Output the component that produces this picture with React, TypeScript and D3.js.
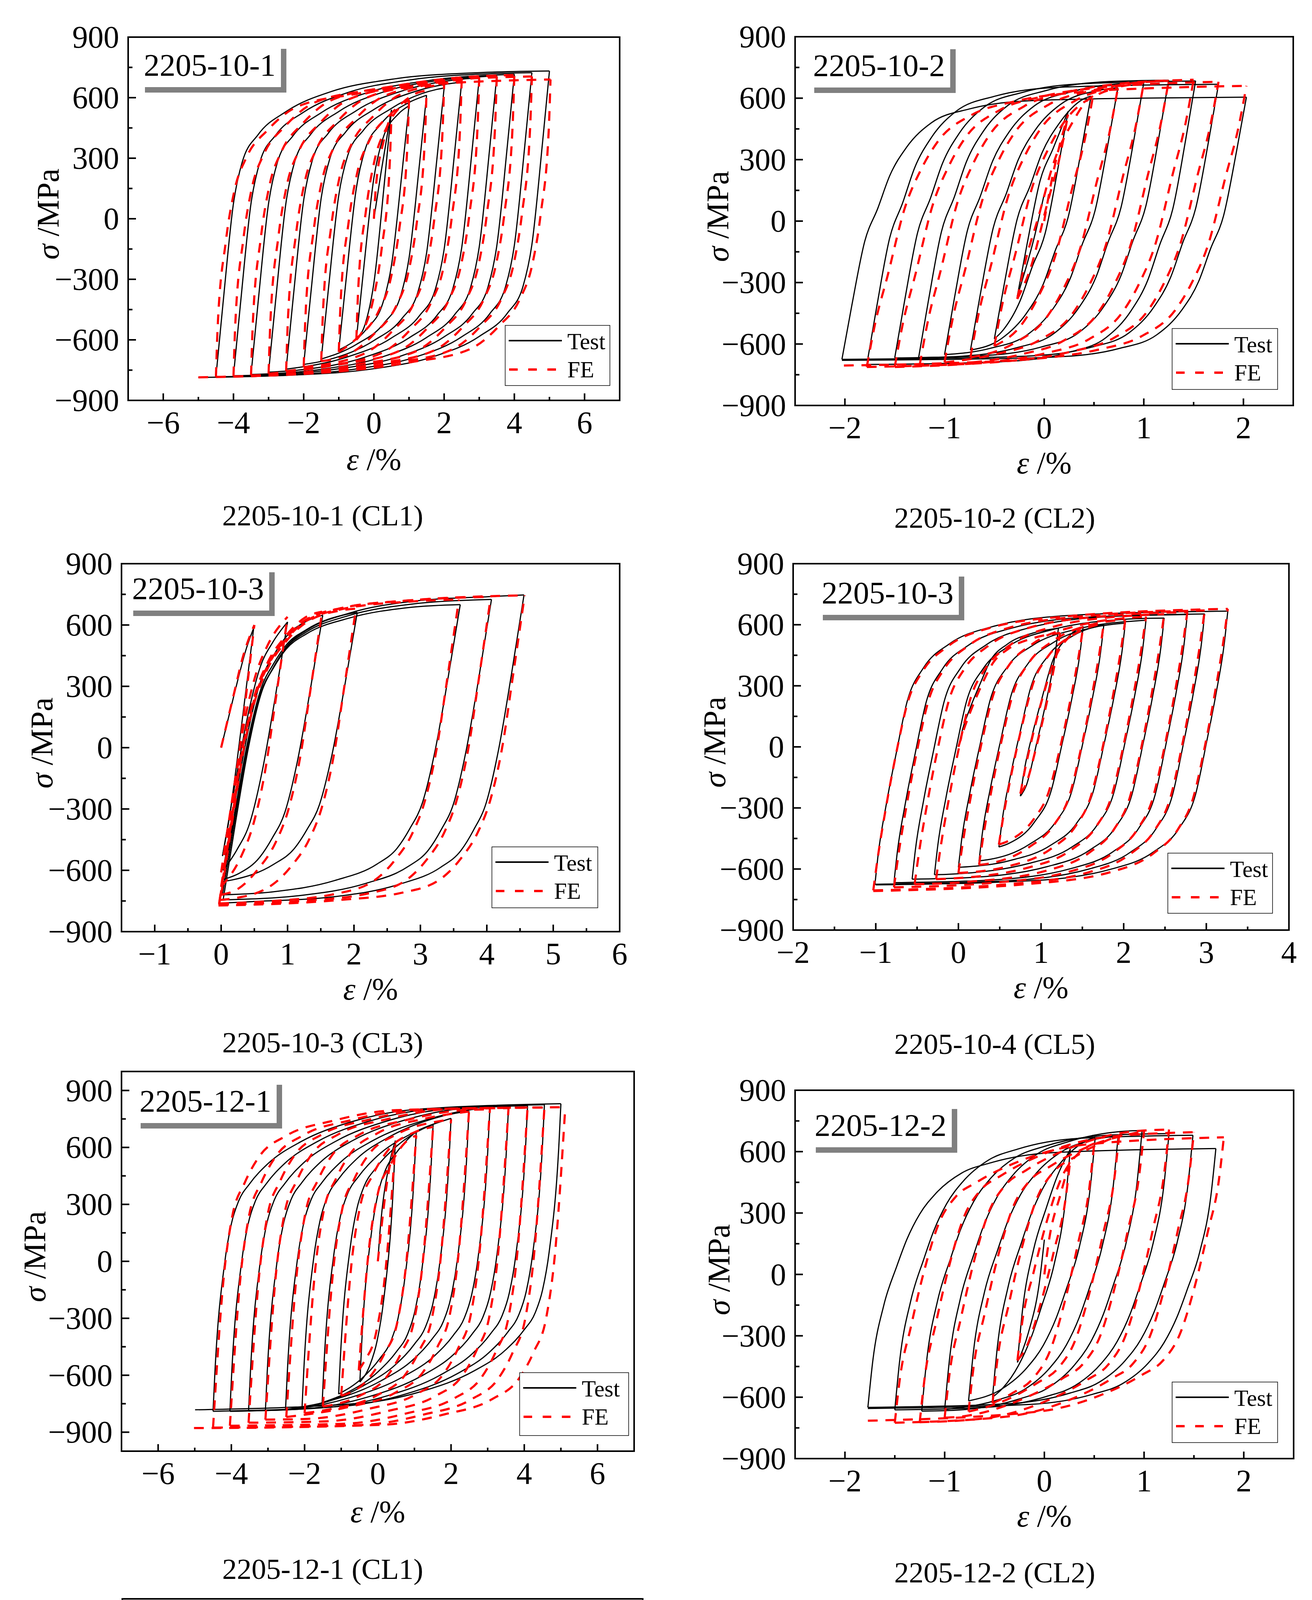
import * as d3 from "d3";
import React, { useEffect, useRef } from "react";

type Pt = [number, number];

const W = 3358;
const H = 5443;
const FONT = "'Liberation Serif', 'Times New Roman', serif";

// Reversal points of each record: [strain %, stress MPa]
const rev101Test: Pt[] = [
  [0, 0], [0.5, 540], [-0.5, -597], [1.0, 560], [-1.0, -650], [1.5, 612], [-1.5, -695],
  [2.0, 648], [-2.0, -722], [2.5, 678], [-2.5, -745], [3.0, 698], [-3.0, -760], [3.5, 708],
  [-3.5, -772], [4.0, 716], [-4.0, -778], [4.5, 724], [-4.5, -783], [5.0, 732], [-5.0, -786],
];
const rev101Fe: Pt[] = [
  [0, 0], [0.5, 520], [-0.5, -600], [1.0, 590], [-1.0, -660], [1.5, 635], [-1.5, -705],
  [2.0, 665], [-2.0, -735], [2.5, 685], [-2.5, -755], [3.0, 700], [-3.0, -768], [3.5, 708],
  [-3.5, -776], [4.0, 712], [-4.0, -781], [4.5, 705], [-4.5, -784], [5.03, 690], [-5.0, -786],
];
const rev102Test: Pt[] = [
  [0, 130], [-0.27, -368], [0.24, 535], [-0.5, -575], [0.47, 610], [-0.74, -630], [0.74, 651],
  [-1.0, -652], [1.0, 676], [-1.26, -666], [1.25, 688], [-1.5, -668], [1.52, 684], [-1.78, -700],
  [1.75, 668], [-2.03, -675], [2.03, 605], [-2.03, -680],
];
const rev102Fe: Pt[] = [
  [0, 0], [0.24, 520], [-0.27, -380], [0.49, 610], [-0.5, -610], [0.74, 650], [-0.74, -665],
  [1.0, 675], [-1.0, -690], [1.25, 685], [-1.25, -705], [1.5, 690], [-1.5, -712], [1.75, 680],
  [-1.78, -712], [2.03, 660], [-2.01, -705],
];
const rev103Test: Pt[] = [
  [0, 0], [0.49, 585], [0.02, -530], [1.0, 615], [0.03, -600], [1.53, 648], [0.03, -645],
  [2.05, 662], [0.03, -655], [3.6, 700], [0.02, -720], [4.07, 725], [0.03, -745], [4.56, 747],
  [0.04, -760],
];
const rev103Fe: Pt[] = [
  [0, 0], [0.5, 600], [0.0, -610], [1.0, 640], [0.0, -680], [1.52, 665], [0.0, -720],
  [2.03, 680], [-0.02, -745], [3.58, 725], [-0.03, -762], [4.06, 738], [-0.03, -768],
  [4.57, 745], [-0.04, -772],
];
const rev104Test: Pt[] = [
  [0, 0], [1.21, 583], [0.75, -242], [1.51, 592], [0.49, -492], [1.76, 600], [0.25, -560],
  [2.02, 608], [0.0, -592], [2.27, 622], [-0.29, -628], [2.49, 633], [-0.56, -650], [2.77, 650],
  [-0.78, -667], [2.98, 653], [-1.01, -675], [3.26, 667], [-1.0, -678],
];
const rev104Fe: Pt[] = [
  [0, 0], [1.23, 560], [0.75, -230], [1.51, 590], [0.49, -480], [1.76, 608], [0.25, -580],
  [2.02, 625], [0.0, -620], [2.27, 640], [-0.27, -650], [2.49, 652], [-0.53, -675], [2.77, 662],
  [-0.78, -690], [2.98, 670], [-1.03, -705], [3.26, 678], [-1.03, -708],
];
const rev121Test: Pt[] = [
  [0, 0], [0.48, 636], [-0.49, -636], [1.05, 685], [-1.07, -699], [1.51, 720], [-1.52, -744],
  [2.0, 753], [-2.07, -771], [2.49, 792], [-2.52, -780], [3.06, 807], [-3.07, -785], [3.57, 816],
  [-3.53, -788], [4.09, 820], [-4.04, -790], [4.55, 825], [-4.5, -790], [5.0, 830], [-4.99, -782],
];
const rev121Fe: Pt[] = [
  [0, 0], [0.48, 618], [-0.52, -574], [1.05, 663], [-1.0, -708], [1.51, 708], [-1.5, -765],
  [2.0, 748], [-2.0, -800], [2.49, 789], [-2.5, -820], [3.06, 800], [-3.07, -834], [3.57, 807],
  [-3.53, -850], [4.09, 810], [-4.04, -866], [4.55, 810], [-4.5, -876], [5.12, 812], [-5.02, -878],
];
const rev122Test: Pt[] = [
  [0, 170], [-0.27, -430], [0.26, 612], [-0.52, -600], [0.51, 670], [-0.76, -618], [0.74, 678],
  [-1.0, -660], [0.98, 703], [-1.23, -668], [1.25, 688], [-1.5, -662], [1.49, 680], [-1.77, -650],
  [1.72, 615], [-1.77, -655],
];
const rev122Fe: Pt[] = [
  [0, 0], [0.26, 560], [-0.27, -420], [0.5, 640], [-0.52, -630], [0.75, 680], [-0.76, -670],
  [1.0, 700], [-1.0, -700], [1.25, 708], [-1.25, -722], [1.5, 695], [-1.5, -725], [1.8, 670],
  [-1.77, -715],
];
const rev123Test: Pt[] = [
  [0, 0], [0.52, 513], [0.0, -420], [0.98, 553], [-0.01, -530], [1.53, 575], [-0.02, -578],
  [1.99, 590], [-0.03, -610], [2.52, 615], [-0.01, -634], [3.03, 640], [0.0, -650], [3.52, 650],
  [0.0, -658], [4.0, 652], [-0.02, -660],
];
const rev123Fe: Pt[] = [
  [0, 0], [0.5, 528], [0.0, -460], [1.0, 605], [0.0, -560], [1.51, 580], [-0.02, -600],
  [2.0, 600], [-0.03, -628], [2.52, 620], [-0.04, -645], [3.03, 632], [-0.05, -652], [3.52, 636],
  [-0.06, -658], [4.02, 636], [-0.1, -662],
];
const rev124Test: Pt[] = [
  [0, 0], [0.55, 565], [-0.52, -524], [0.55, 570], [-0.52, -530], [1.52, 640], [-1.52, -660],
  [1.52, 648], [-1.53, -667], [2.5, 705], [-2.51, -717], [2.5, 707], [-2.51, -718],
];
const rev124Fe: Pt[] = [
  [0, 0], [0.55, 540], [-0.53, -540], [0.55, 545], [-0.53, -545], [1.52, 645], [-1.55, -683],
  [1.52, 655], [-1.55, -685], [2.54, 680], [-2.52, -717], [2.54, 682], [-2.52, -718],
];

// Branch shapes: [strain offset, stress offset] from a reversal, read from the outer loops
const shape101Test: Pt[] = [[0, 0], [0.2, 360], [0.5, 860], [0.75, 1065], [1.2, 1200], [2, 1315], [3.3, 1415], [5, 1475], [7.5, 1508], [10, 1518]];
const shape101Fe: Pt[] = [[0, 0], [0.05, 250], [0.28, 670], [0.52, 920], [0.87, 1090], [1.47, 1225], [2.3, 1340], [4, 1405], [6, 1450], [10, 1480]];
const shape102Test: Pt[] = [[0, 0], [0.1, 266], [0.23, 580], [0.36, 740], [0.48, 900], [0.65, 1040], [0.9, 1160], [1.28, 1227], [1.91, 1268], [3.0, 1280], [4.1, 1285]];
const shape102Fe: Pt[] = [[0, 0], [0.08, 208], [0.21, 456], [0.38, 788], [0.55, 987], [0.71, 1119], [1.05, 1252], [1.47, 1318], [2, 1360], [3.15, 1390], [4.1, 1400]];
const shape103Test: Pt[] = [[0, 0], [0.19, 390], [0.38, 752], [0.57, 1018], [0.76, 1151], [0.95, 1251], [1.26, 1334], [1.89, 1417], [2.84, 1476], [4.1, 1501], [4.6, 1509]];
const shape103Fe: Pt[] = [[0, 0], [0.2, 440], [0.32, 700], [0.51, 980], [0.7, 1140], [0.96, 1270], [1.27, 1370], [1.84, 1435], [2.85, 1472], [4.6, 1497]];
const shape104Test: Pt[] = [[0, 0], [0.04, 150], [0.14, 400], [0.26, 650], [0.39, 900], [0.59, 1067], [0.9, 1183], [1.41, 1267], [2.42, 1325], [4.3, 1345]];
const shape104Fe: Pt[] = [[0, 0], [0.05, 150], [0.15, 400], [0.28, 680], [0.42, 930], [0.6, 1080], [0.9, 1200], [1.4, 1290], [2.4, 1350], [4.3, 1385]];
const shape121Test: Pt[] = [[0, 0], [0.05, 200], [0.32, 780], [0.5, 980], [0.7, 1100], [1.0, 1190], [1.5, 1295], [2.4, 1410], [3.8, 1515], [5.5, 1578], [10, 1612]];
const shape121Fe: Pt[] = [[0, 0], [0.29, 790], [0.52, 1110], [0.86, 1290], [1.26, 1430], [2, 1540], [3.3, 1620], [5, 1675], [10, 1692]];
const shape122Test: Pt[] = [[0, 0], [0.05, 230], [0.16, 500], [0.29, 690], [0.39, 820], [0.52, 945], [0.68, 1045], [0.94, 1145], [1.23, 1195], [1.86, 1245], [3.5, 1265]];
const shape122Fe: Pt[] = [[0, 0], [0.05, 210], [0.16, 460], [0.29, 725], [0.44, 960], [0.61, 1090], [0.82, 1160], [1.24, 1260], [1.87, 1340], [3.6, 1385]];
const shape123Test: Pt[] = [[0, 0], [0.13, 330], [0.25, 560], [0.4, 740], [0.55, 860], [0.7, 960], [1.0, 1075], [1.33, 1150], [2.06, 1230], [3.0, 1270], [4.1, 1300]];
const shape123Fe: Pt[] = [[0, 0], [0.1, 220], [0.22, 440], [0.39, 670], [0.56, 865], [0.82, 1020], [1.16, 1135], [1.6, 1220], [2.1, 1270], [3.05, 1292], [4.1, 1300]];
const shape124Test: Pt[] = [[0, 0], [0.05, 220], [0.21, 470], [0.36, 690], [0.51, 890], [0.72, 1055], [1.02, 1190], [1.53, 1300], [2.4, 1365], [3.42, 1405], [5.1, 1430]];
const shape124Fe: Pt[] = [[0, 0], [0.05, 210], [0.21, 455], [0.36, 680], [0.51, 870], [0.72, 1040], [1.0, 1190], [1.5, 1300], [2.4, 1360], [3.4, 1390], [5.1, 1400]];

// Tick labels
const xTicksWide = [-6, -4, -2, 0, 2, 4, 6];
const xTicksCL2 = [-2, -1, 0, 1, 2];
const xTicks103 = [-1, 0, 1, 2, 3, 4, 5, 6];
const xTicks104 = [-2, -1, 0, 1, 2, 3, 4];
const xTicks123 = [-1, 0, 1, 2, 3, 4, 5];
const xTicks124 = [-3, -2, -1, 0, 1, 2, 3];
const yTicks900 = [-900, -600, -300, 0, 300, 600, 900];
const yTicks800 = [-800, -600, -400, -200, 0, 200, 400, 600, 800];

const labels = ["2205-10-1", "2205-10-2", "2205-10-3", "2205-10-3", "2205-12-1", "2205-12-2", "2205-12-3", "2205-12-4"];
const captions = [
  "2205-10-1 (CL1)", "2205-10-2 (CL2)", "2205-10-3 (CL3)", "2205-10-4 (CL5)",
  "2205-12-1 (CL1)", "2205-12-2 (CL2)", "2205-12-3 (CL3)", "2205-12-4 (CL4)",
];

interface Panel {
  test: Pt[];
  fe: Pt[];
  testShape: Pt[];
  feShape: Pt[];
  xDomain: [number, number];
  yDomain: [number, number];
  xTicks: number[];
  yTicks: number[];
  frame: [number, number, number, number]; // left, right, top, bottom
  labelAt: [number, number];
  legendAt: [number, number, number, number];
  yTitleGap: number;
  xTitleGap: number;
  captionAt: [number, number];
}

const panels: Panel[] = [
  { test: rev101Test, fe: rev101Fe, testShape: shape101Test, feShape: shape101Fe, xDomain: [-7, 7], yDomain: [-900, 900], xTicks: xTicksWide, yTicks: yTicks900, frame: [328, 1586, 95, 1025], labelAt: [40, 99], legendAt: [1293, 833, 268, 154], yTitleGap: 178, xTitleGap: 178, captionAt: [826, 1345] },
  { test: rev102Test, fe: rev102Fe, testShape: shape102Test, feShape: shape102Fe, xDomain: [-2.5, 2.5], yDomain: [-900, 900], xTicks: xTicksCL2, yTicks: yTicks900, frame: [2035, 3310, 94, 1038], labelAt: [46, 101], legendAt: [3000, 841, 270, 156], yTitleGap: 171, xTitleGap: 174, captionAt: [2546, 1351] },
  { test: rev103Test, fe: rev103Fe, testShape: shape103Test, feShape: shape103Fe, xDomain: [-1.5, 6], yDomain: [-900, 900], xTicks: xTicks103, yTicks: yTicks900, frame: [311, 1586, 1443, 2385], labelAt: [27, 91], legendAt: [1259, 2168, 271, 156], yTitleGap: 177, xTitleGap: 174, captionAt: [826, 2694] },
  { test: rev104Test, fe: rev104Fe, testShape: shape104Test, feShape: shape104Fe, xDomain: [-2, 4], yDomain: [-900, 900], xTicks: xTicks104, yTicks: yTicks900, frame: [2030, 3299, 1443, 2381], labelAt: [73, 102], legendAt: [2989, 2184, 268, 154], yTitleGap: 174, xTitleGap: 174, captionAt: [2546, 2698] },
  { test: rev121Test, fe: rev121Fe, testShape: shape121Test, feShape: shape121Fe, xDomain: [-7, 7], yDomain: [-1000, 1000], xTicks: xTicksWide, yTicks: yTicks900, frame: [311, 1623, 2743, 3715], labelAt: [46, 103], legendAt: [1330, 3514, 279, 161], yTitleGap: 195, xTitleGap: 182, captionAt: [826, 4042] },
  { test: rev122Test, fe: rev122Fe, testShape: shape122Test, feShape: shape122Fe, xDomain: [-2.5, 2.5], yDomain: [-900, 900], xTicks: xTicksCL2, yTicks: yTicks900, frame: [2035, 3311, 2791, 3734], labelAt: [50, 117], legendAt: [3000, 3538, 270, 155], yTitleGap: 168, xTitleGap: 174, captionAt: [2546, 4051] },
  { test: rev123Test, fe: rev123Fe, testShape: shape123Test, feShape: shape123Fe, xDomain: [-1, 5], yDomain: [-900, 900], xTicks: xTicks123, yTicks: yTicks800, frame: [313, 1645, 4093, 5078], labelAt: [46, 99], legendAt: [1337, 4870, 281, 163], yTitleGap: 214, xTitleGap: 174, captionAt: [826, 5395] },
  { test: rev124Test, fe: rev124Fe, testShape: shape124Test, feShape: shape124Fe, xDomain: [-3, 3], yDomain: [-900, 900], xTicks: xTicks124, yTicks: yTicks900, frame: [2036, 3299, 4139, 5073], labelAt: [69, 112], legendAt: [2990, 4878, 268, 155], yTitleGap: 183, xTitleGap: 174, captionAt: [2546, 5390] },
];

// one half-cycle between two reversal points, following the panel's branch shape
function branchPoints(from: Pt, to: Pt, shape: Pt[]): Pt[] {
  const dir = to[0] > from[0] ? 1 : -1;
  const range = Math.abs(to[0] - from[0]);
  const drop = Math.abs(to[1] - from[1]);
  let reach = shape[shape.length - 1][1];
  for (let i = 1; i < shape.length; i++) {
    if (shape[i][0] >= range) {
      const [d0, t0] = shape[i - 1];
      const [d1, t1] = shape[i];
      reach = t0 + ((range - d0) / (d1 - d0)) * (t1 - t0);
      break;
    }
  }
  const k = drop / reach;
  const pts: Pt[] = [from];
  shape.forEach(([d, t]) => {
    if (d > 0 && d < range - 0.04) pts.push([from[0] + dir * d, from[1] + dir * t * k]);
  });
  pts.push(to);
  return dir > 0 ? pts : pts.reverse();
}

function minorTicks(major: number[], domain: [number, number]): number[] {
  const step = major[1] - major[0];
  const out: number[] = [];
  const lo = Math.min(...domain);
  const hi = Math.max(...domain);
  [major[0] - step / 2, ...major.map((m) => m + step / 2)].forEach((v) => {
    if (v > lo + 1e-6 && v < hi - 1e-6) out.push(v);
  });
  return out;
}

const fmt = (v: number) => (v < 0 ? "\u2212" + Math.abs(v) : String(v));

function drawPanel(svg: d3.Selection<SVGSVGElement, unknown, null, undefined>, p: Panel, i: number) {
  const [L, R, T, B] = p.frame;
  const x = d3.scaleLinear().domain(p.xDomain).range([L, R]);
  const y = d3.scaleLinear().domain(p.yDomain).range([B, T]);
  const g = svg.append("g");

  g.append("clipPath")
    .attr("id", `clip${i}`)
    .append("rect")
    .attr("x", L)
    .attr("y", T)
    .attr("width", R - L)
    .attr("height", B - T);

  const line = d3
    .line<Pt>()
    .x((d) => x(d[0]))
    .y((d) => y(d[1]))
    .curve(d3.curveMonotoneX);

  const curves = g.append("g").attr("clip-path", `url(#clip${i})`);

  const drawSeries = (rev: Pt[], shape: Pt[], color: string, width: number, dash: string | null) => {
    for (let k = 0; k < rev.length - 1; k++) {
      const path = curves
        .append("path")
        .attr("d", line(branchPoints(rev[k], rev[k + 1], shape)))
        .attr("fill", "none")
        .attr("stroke", color)
        .attr("stroke-width", width)
        .attr("stroke-linejoin", "round");
      if (dash) path.attr("stroke-dasharray", dash);
    }
  };
  drawSeries(p.test, p.testShape, "#000000", 3, null);
  drawSeries(p.fe, p.feShape, "#ff0000", 5.5, "25 20");

  // frame
  g.append("rect")
    .attr("x", L)
    .attr("y", T)
    .attr("width", R - L)
    .attr("height", B - T)
    .attr("fill", "none")
    .attr("stroke", "#000")
    .attr("stroke-width", 4);

  // ticks (inward)
  const tickG = g.append("g").attr("stroke", "#000").attr("stroke-width", 4);
  p.xTicks.forEach((v) => {
    tickG.append("line").attr("x1", x(v)).attr("x2", x(v)).attr("y1", B).attr("y2", B - 18);
  });
  minorTicks(p.xTicks, p.xDomain).forEach((v) => {
    tickG.append("line").attr("x1", x(v)).attr("x2", x(v)).attr("y1", B).attr("y2", B - 9);
  });
  p.yTicks.forEach((v) => {
    tickG.append("line").attr("x1", L).attr("x2", L + 20).attr("y1", y(v)).attr("y2", y(v));
  });
  minorTicks(p.yTicks, p.yDomain).forEach((v) => {
    tickG.append("line").attr("x1", L).attr("x2", L + 11).attr("y1", y(v)).attr("y2", y(v));
  });

  // tick labels
  p.xTicks.forEach((v) => {
    g.append("text")
      .attr("x", x(v))
      .attr("y", B + 84)
      .attr("text-anchor", "middle")
      .style("font-family", FONT)
      .style("font-size", "80px")
      .text(fmt(v));
  });
  p.yTicks.forEach((v) => {
    g.append("text")
      .attr("x", L - 23)
      .attr("y", y(v) + 27)
      .attr("text-anchor", "end")
      .style("font-family", FONT)
      .style("font-size", "80px")
      .text(fmt(v));
  });

  // axis titles
  const xt = g
    .append("text")
    .attr("x", (L + R) / 2)
    .attr("y", B + p.xTitleGap)
    .attr("text-anchor", "middle")
    .style("font-family", FONT)
    .style("font-size", "80px");
  xt.append("tspan").style("font-style", "italic").text("\u03b5");
  xt.append("tspan").text(" /%");

  const yt = g
    .append("text")
    .attr("transform", `translate(${L - p.yTitleGap},${(T + B) / 2 - 12}) rotate(-90)`)
    .attr("text-anchor", "middle")
    .style("font-family", FONT)
    .style("font-size", "80px");
  yt.append("tspan").style("font-style", "italic").text("\u03c3");
  yt.append("tspan").text(" /MPa");

  // specimen label with grey shadow
  const lx = L + p.labelAt[0];
  const ly = T + p.labelAt[1];
  g.append("rect").attr("x", lx + 351).attr("y", ly - 69).attr("width", 14).attr("height", 112).attr("fill", "#808080");
  g.append("rect").attr("x", lx + 3).attr("y", ly + 29).attr("width", 362).attr("height", 14).attr("fill", "#808080");
  g.append("text")
    .attr("x", lx)
    .attr("y", ly)
    .style("font-family", FONT)
    .style("font-size", "81px")
    .text(labels[i]);

  // legend
  const [gx, gy, gw, gh] = p.legendAt;
  const leg = g.append("g").attr("transform", `translate(${gx},${gy})`);
  leg.append("rect").attr("width", gw).attr("height", gh).attr("fill", "#fff").attr("stroke", "#000").attr("stroke-width", 1.5);
  leg.append("line").attr("x1", 9).attr("x2", 145).attr("y1", 39).attr("y2", 39).attr("stroke", "#000").attr("stroke-width", 4);
  leg.append("line").attr("x1", 10).attr("x2", 145).attr("y1", 113).attr("y2", 113).attr("stroke", "#ff0000").attr("stroke-width", 6).attr("stroke-dasharray", "22 27");
  leg.append("text").attr("x", 159).attr("y", 61).style("font-family", FONT).style("font-size", "59px").text("Test");
  leg.append("text").attr("x", 159).attr("y", 133).style("font-family", FONT).style("font-size", "59px").text("FE");

  // caption under the panel
  g.append("text")
    .attr("x", p.captionAt[0])
    .attr("y", p.captionAt[1])
    .attr("text-anchor", "middle")
    .style("font-family", FONT)
    .style("font-size", "75px")
    .text(captions[i]);
}

export default function App() {
  const svgRef = useRef<SVGSVGElement>(null);

  useEffect(() => {
    document.body.style.margin = "0";
    if (!svgRef.current) return;
    const svg = d3.select(svgRef.current);
    svg.selectAll("*").remove();
    svg.append("rect").attr("width", W).attr("height", H).attr("fill", "#fff");
    panels.forEach((p, i) => drawPanel(svg, p, i));
  }, []);

  return (
    <svg
      ref={svgRef}
      width={W}
      height={H}
      viewBox={`0 0 ${W} ${H}`}
      style={{ display: "block", background: "#fff" }}
    />
  );
}
